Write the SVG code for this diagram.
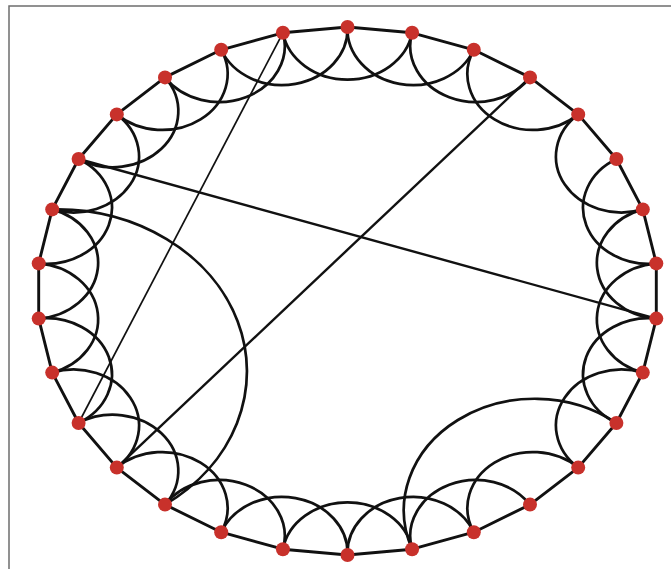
<svg xmlns="http://www.w3.org/2000/svg" width="671" height="569" viewBox="0 0 671 569">
<style>
.ring{fill:none;stroke:#111;stroke-width:2.9;stroke-linejoin:round}
.arc{fill:none;stroke:#111;stroke-width:2.7}
.chord{fill:none;stroke:#111;stroke-width:2.4}
.thin{stroke-width:1.7}
.node{fill:#c8312b}
</style>
<rect width="671" height="569" fill="#fff"/>
<rect x="9" y="6" width="680" height="600" fill="none" stroke="#6e6e6e" stroke-width="1.5"/>
<g id="connectors">
<polygon class="ring" points="347.5,27 412.1,32.8 473.8,49.8 530,77.4 578.2,114.4 616.4,159 642.8,209.4 656.3,263.4 656.3,318.6 642.8,372.6 616.4,423 578.2,467.6 530,504.6 473.8,532.2 412.1,549.2 347.5,555 282.9,549.2 221.2,532.2 165,504.6 116.8,467.6 78.6,423 52.2,372.6 38.7,318.6 38.7,263.4 52.2,209.4 78.6,159 116.8,114.4 165,77.4 221.2,49.8 282.9,32.8"/>
<path class="arc" d="M347.5,27 A65.5,56 0 0 0 473.8,49.8"/>
<path class="arc" d="M412.1,32.8 A65.5,56 0 0 0 530,77.4"/>
<path class="arc" d="M473.8,49.8 A65.5,56 0 0 0 578.2,114.4"/>
<path class="arc" d="M578.2,114.4 A65.5,56 0 0 0 642.8,209.4"/>
<path class="arc" d="M616.4,159 A65.5,56 0 0 0 656.3,263.4"/>
<path class="arc" d="M642.8,209.4 A65.5,56 0 0 0 656.3,318.6"/>
<path class="arc" d="M656.3,263.4 A65.5,56 0 0 0 642.8,372.6"/>
<path class="arc" d="M656.3,318.6 A65.5,56 0 0 0 616.4,423"/>
<path class="arc" d="M642.8,372.6 A65.5,56 0 0 0 578.2,467.6"/>
<path class="arc" d="M578.2,467.6 A65.5,56 0 0 0 473.8,532.2"/>
<path class="arc" d="M530,504.6 A65.5,56 0 0 0 412.1,549.2"/>
<path class="arc" d="M473.8,532.2 A65.5,56 0 0 0 347.5,555"/>
<path class="arc" d="M412.1,549.2 A65.5,56 0 0 0 282.9,549.2"/>
<path class="arc" d="M347.5,555 A65.5,56 0 0 0 221.2,532.2"/>
<path class="arc" d="M282.9,549.2 A65.5,56 0 0 0 165,504.6"/>
<path class="arc" d="M221.2,532.2 A65.5,56 0 0 0 116.8,467.6"/>
<path class="arc" d="M165,504.6 A65.5,56 0 0 0 78.6,423"/>
<path class="arc" d="M116.8,467.6 A65.5,56 0 0 0 52.2,372.6"/>
<path class="arc" d="M78.6,423 A65.5,56 0 0 0 38.7,318.6"/>
<path class="arc" d="M52.2,372.6 A65.5,56 0 0 0 38.7,263.4"/>
<path class="arc" d="M38.7,318.6 A65.5,56 0 0 0 52.2,209.4"/>
<path class="arc" d="M38.7,263.4 A65.5,56 0 0 0 78.6,159"/>
<path class="arc" d="M52.2,209.4 A65.5,56 0 0 0 116.8,114.4"/>
<path class="arc" d="M78.6,159 A65.5,56 0 0 0 165,77.4"/>
<path class="arc" d="M116.8,114.4 A65.5,56 0 0 0 221.2,49.8"/>
<path class="arc" d="M165,77.4 A65.5,56 0 0 0 282.9,32.8"/>
<path class="arc" d="M221.2,49.8 A65.5,56 0 0 0 347.5,27"/>
<path class="arc" d="M282.9,32.8 A65.5,56 0 0 0 412.1,32.8"/>
<path class="arc" d="M165,504.6 A190,162 0 0 0 52.2,209.4"/>
<path class="arc" d="M616.4,423 A131,111.5 0 0 0 412.1,549.2"/>
<line class="chord thin" x1="282.9" y1="32.8" x2="78.6" y2="423"/>
<line class="chord" x1="530" y1="77.4" x2="116.8" y2="467.6"/>
<line class="chord" x1="78.6" y1="159" x2="656.3" y2="318.6"/>
</g>
<g id="n0"><circle class="node" cx="347.5" cy="27" r="7"/></g>
<g id="n1"><circle class="node" cx="412.1" cy="32.8" r="7"/></g>
<g id="n2"><circle class="node" cx="473.8" cy="49.8" r="7"/></g>
<g id="n3"><circle class="node" cx="530" cy="77.4" r="7"/></g>
<g id="n4"><circle class="node" cx="578.2" cy="114.4" r="7"/></g>
<g id="n5"><circle class="node" cx="616.4" cy="159" r="7"/></g>
<g id="n6"><circle class="node" cx="642.8" cy="209.4" r="7"/></g>
<g id="n7"><circle class="node" cx="656.3" cy="263.4" r="7"/></g>
<g id="n8"><circle class="node" cx="656.3" cy="318.6" r="7"/></g>
<g id="n9"><circle class="node" cx="642.8" cy="372.6" r="7"/></g>
<g id="n10"><circle class="node" cx="616.4" cy="423" r="7"/></g>
<g id="n11"><circle class="node" cx="578.2" cy="467.6" r="7"/></g>
<g id="n12"><circle class="node" cx="530" cy="504.6" r="7"/></g>
<g id="n13"><circle class="node" cx="473.8" cy="532.2" r="7"/></g>
<g id="n14"><circle class="node" cx="412.1" cy="549.2" r="7"/></g>
<g id="n15"><circle class="node" cx="347.5" cy="555" r="7"/></g>
<g id="n16"><circle class="node" cx="282.9" cy="549.2" r="7"/></g>
<g id="n17"><circle class="node" cx="221.2" cy="532.2" r="7"/></g>
<g id="n18"><circle class="node" cx="165" cy="504.6" r="7"/></g>
<g id="n19"><circle class="node" cx="116.8" cy="467.6" r="7"/></g>
<g id="n20"><circle class="node" cx="78.6" cy="423" r="7"/></g>
<g id="n21"><circle class="node" cx="52.2" cy="372.6" r="7"/></g>
<g id="n22"><circle class="node" cx="38.7" cy="318.6" r="7"/></g>
<g id="n23"><circle class="node" cx="38.7" cy="263.4" r="7"/></g>
<g id="n24"><circle class="node" cx="52.2" cy="209.4" r="7"/></g>
<g id="n25"><circle class="node" cx="78.6" cy="159" r="7"/></g>
<g id="n26"><circle class="node" cx="116.8" cy="114.4" r="7"/></g>
<g id="n27"><circle class="node" cx="165" cy="77.4" r="7"/></g>
<g id="n28"><circle class="node" cx="221.2" cy="49.8" r="7"/></g>
<g id="n29"><circle class="node" cx="282.9" cy="32.8" r="7"/></g>
</svg>
